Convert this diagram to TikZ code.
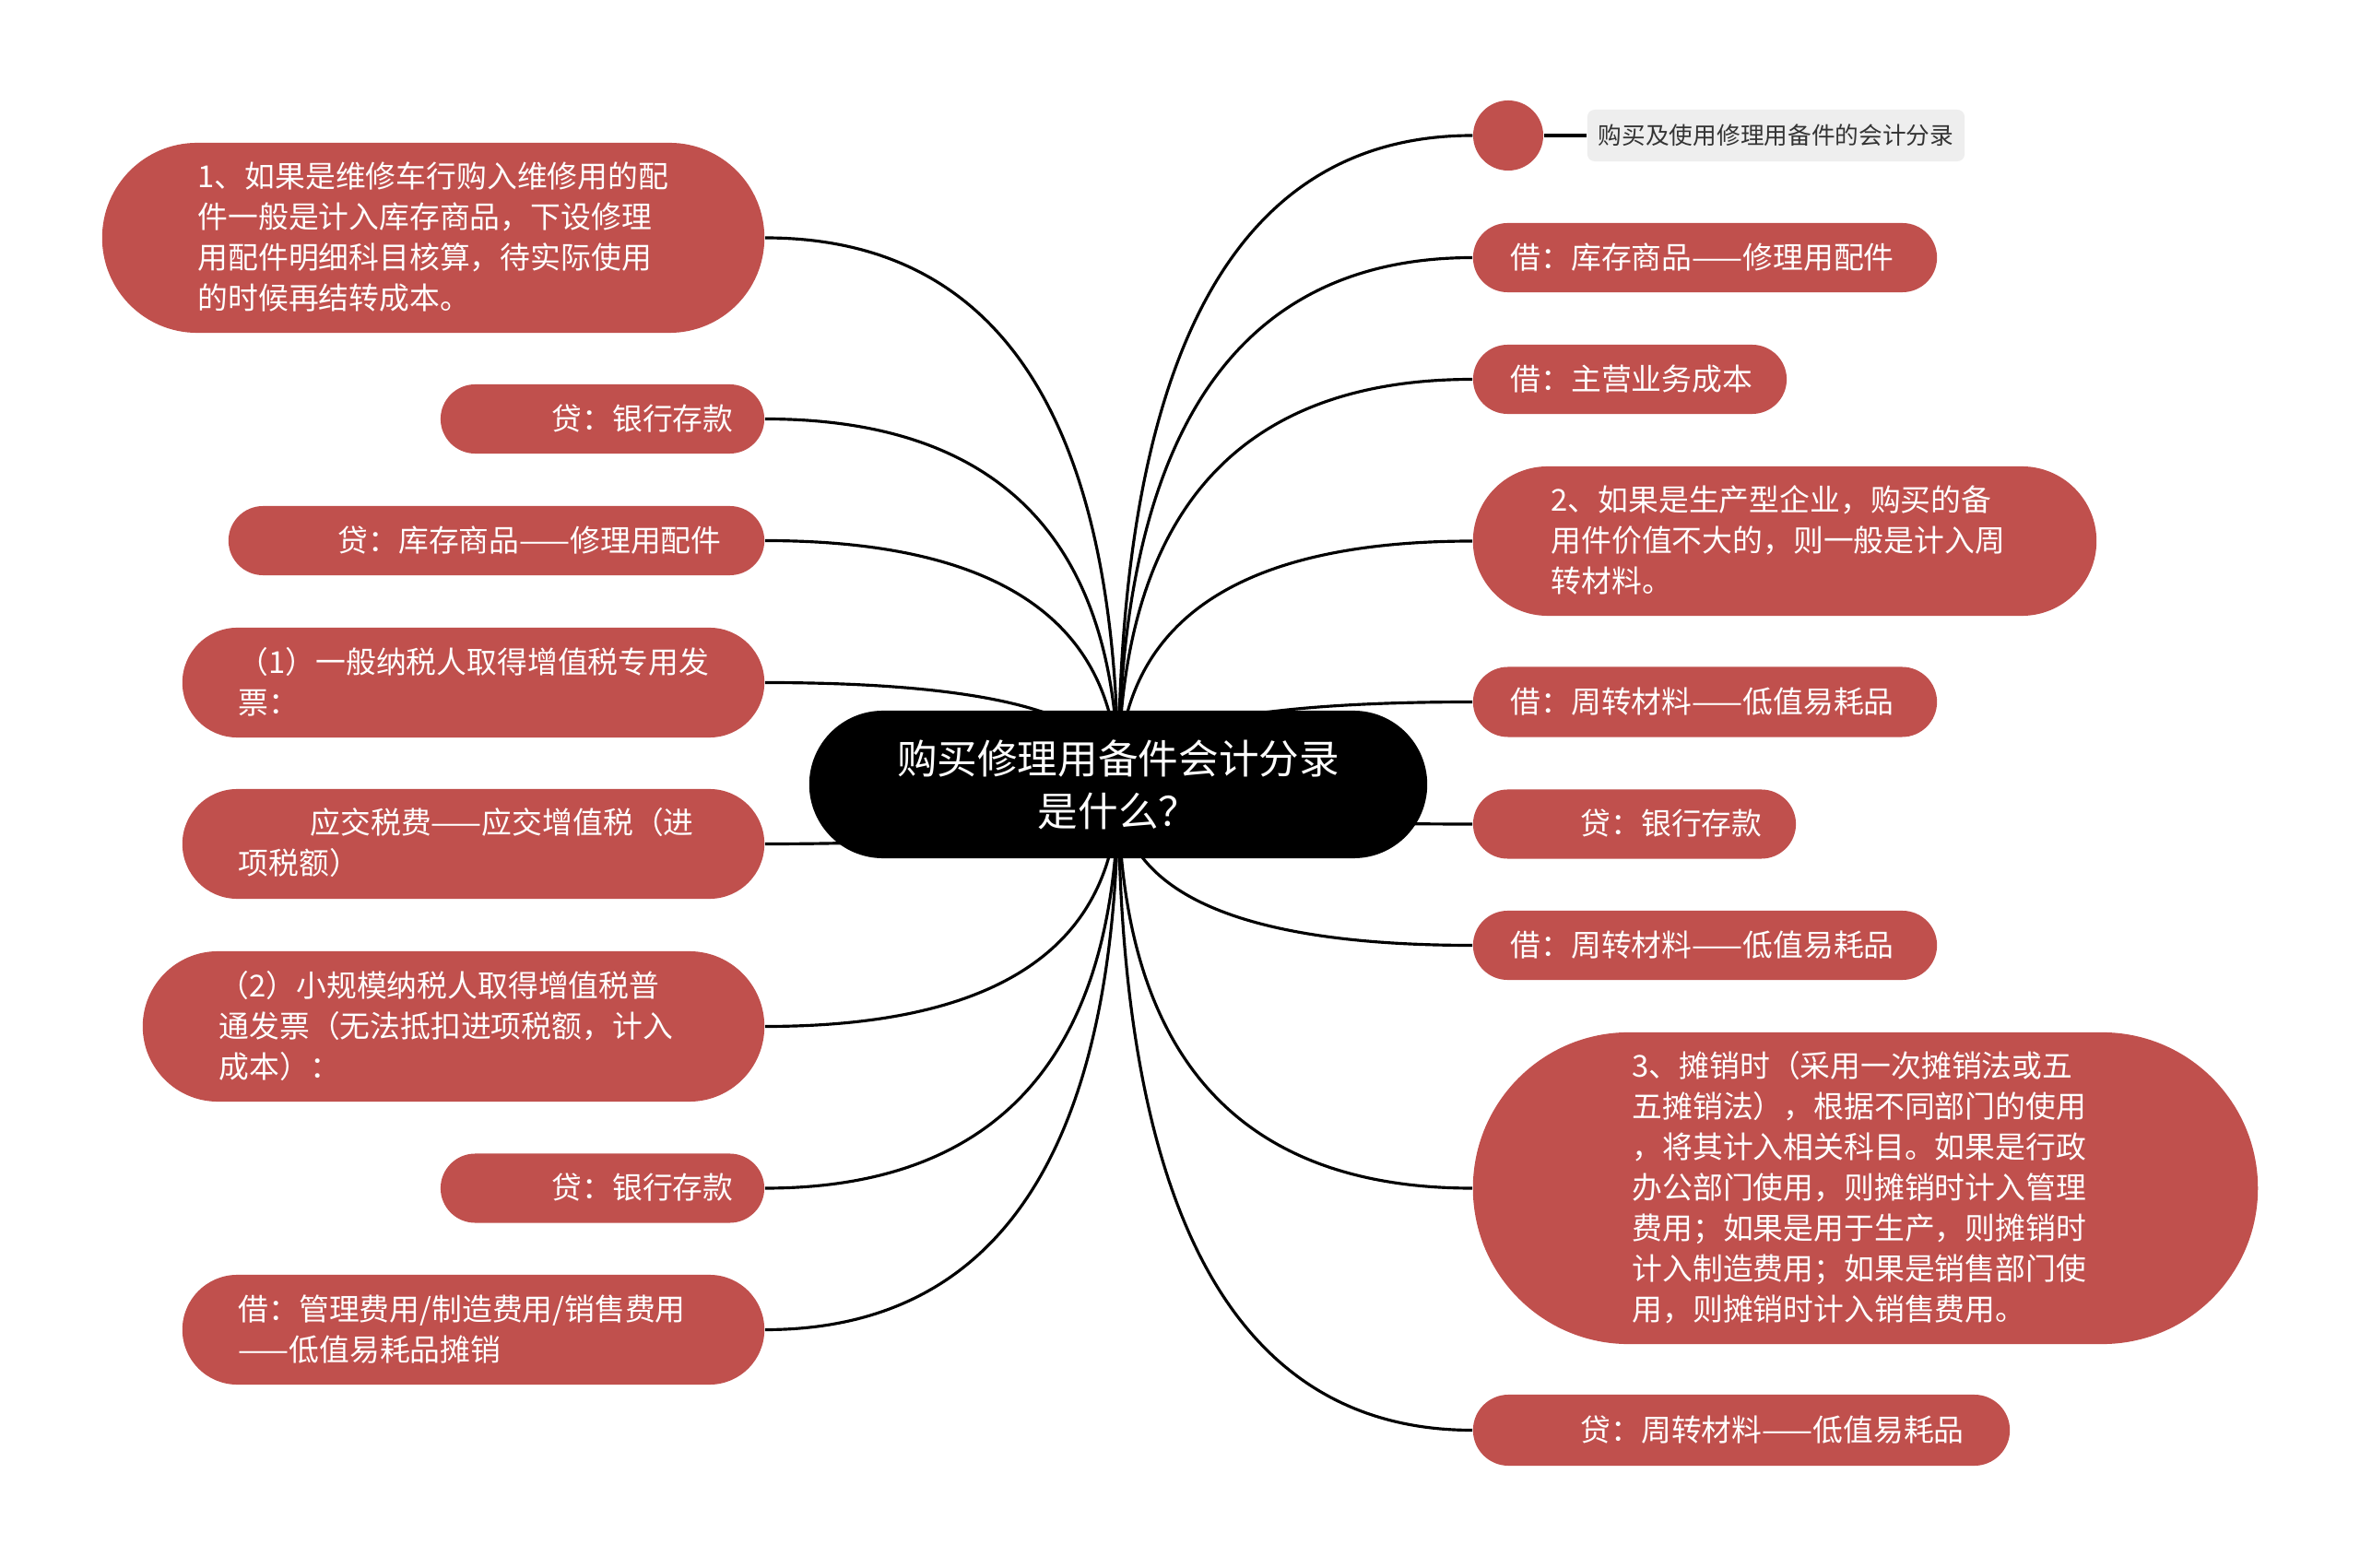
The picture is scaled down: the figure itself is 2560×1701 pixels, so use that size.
\documentclass[tikz,border=0pt]{standalone}
\usepackage{fontspec}
\newfontfamily\cjk{Noto Sans CJK SC}
\usetikzlibrary{calc,shapes.misc,backgrounds}
\definecolor{nred}{HTML}{C0504D}
\definecolor{lgray}{HTML}{EEEEEE}
\definecolor{ltext}{HTML}{333333}
\begin{document}
\begin{tikzpicture}[x=0.01cm,y=-0.01cm,
  pill/.style={rounded rectangle, fill=nred, draw=none, inner sep=0pt},
  body/.style={font=\cjk\fontsize{9.33pt}{12.52pt}\selectfont, text=white, align=left, anchor=west, inner sep=0pt},
  conn/.style={draw=black, line width=0.9pt},
]
\useasboundingbox (0,0) rectangle (2560,1701);

% root
\node[rounded rectangle, fill=black, minimum width=6.7cm, minimum height=1.6cm, inner sep=0pt] (root) at (1213,851) {};
\node[font=\cjk\fontsize{12.4pt}{16.2pt}\selectfont, text=white, align=center, inner sep=0pt] (roottxt) at (1213,851) {购买修理用备件会计分录\\是什么？};

% left shapes
\node[pill, minimum width=7.18cm, minimum height=2.06cm] (L1) at (470,258) {};
\node[pill, minimum width=3.51cm, minimum height=0.75cm] (L2) at (653.5,454.5) {};
\node[pill, minimum width=5.81cm, minimum height=0.75cm] (L3) at (538.5,586.5) {};
\node[pill, minimum width=6.31cm, minimum height=1.19cm] (L4) at (513.5,740.5) {};
\node[pill, minimum width=6.31cm, minimum height=1.19cm] (L5) at (513.5,915.5) {};
\node[pill, minimum width=6.74cm, minimum height=1.63cm] (L6) at (492,1113.5) {};
\node[pill, minimum width=3.51cm, minimum height=0.75cm] (L7) at (653.5,1289) {};
\node[pill, minimum width=6.31cm, minimum height=1.19cm] (L8) at (513.5,1442.5) {};

% left texts
\node[body] (t1) at (214,257) {1、如果是维修车行购入维修用的配\\件一般是计入库存商品，下设修理\\用配件明细科目核算，待实际使用\\的时候再结转成本。};
\node[body] (t2) at (598,454) {贷：银行存款};
\node[body] (t3) at (366,586) {贷：库存商品——修理用配件};
\node[body] (t4) at (258,740) {（1）一般纳税人取得增值税专用发\\票：};
\node[body] (t5) at (258,914) {\hspace*{0.78cm}应交税费——应交增值税（进\\项税额）};
\node[body] (t6) at (237,1113) {（2）小规模纳税人取得增值税普\\通发票（无法抵扣进项税额，计入\\成本）：};
\node[body] (t7) at (598,1288) {贷：银行存款};
\node[body] (t8) at (258,1442) {借：管理费用/制造费用/销售费用\\——低值易耗品摊销};

% right shapes
\node[circle, fill=nred, minimum size=0.76cm, inner sep=0pt] (R0) at (1636,147) {};
\node[rounded corners=0.08cm, fill=lgray, minimum width=4.09cm, minimum height=0.56cm, inner sep=0pt, text=ltext, font=\cjk\fontsize{7.3pt}{9pt}\selectfont] (R0b) at (1926.5,147) {购买及使用修理用备件的会计分录};
\node[pill, minimum width=5.03cm, minimum height=0.75cm] (R1) at (1849.5,279.5) {};
\node[pill, minimum width=3.40cm, minimum height=0.75cm] (R2) at (1768,411.5) {};
\node[pill, minimum width=6.76cm, minimum height=1.62cm] (R3) at (1936,587) {};
\node[pill, minimum width=5.03cm, minimum height=0.76cm] (R4) at (1849.5,761.5) {};
\node[pill, minimum width=3.50cm, minimum height=0.75cm] (R5) at (1773,894) {};
\node[pill, minimum width=5.03cm, minimum height=0.75cm] (R6) at (1849.5,1025.5) {};
\node[pill, minimum width=8.51cm, minimum height=3.38cm] (R7) at (2023.5,1289) {};
\node[pill, minimum width=5.82cm, minimum height=0.77cm] (R8) at (1889,1551.5) {};

% right texts
\node[body] (s1) at (1638,279) {借：库存商品——修理用配件};
\node[body] (s2) at (1638,411) {借：主营业务成本};
\node[body] (s3) at (1682,586) {2、如果是生产型企业，购买的备\\用件价值不大的，则一般是计入周\\转材料。};
\node[body] (s4) at (1638,761) {借：周转材料——低值易耗品};
\node[body] (s5) at (1714,893) {贷：银行存款};
\node[body] (s6) at (1638,1025) {借：周转材料——低值易耗品};
\node[body] (s7) at (1770,1288) {3、摊销时（采用一次摊销法或五\\五摊销法），根据不同部门的使用\\，将其计入相关科目。如果是行政\\办公部门使用，则摊销时计入管理\\费用；如果是用于生产，则摊销时\\计入制造费用；如果是销售部门使\\用，则摊销时计入销售费用。};
\node[body] (s8) at (1714,1551) {贷：周转材料——低值易耗品};

\begin{pgfonlayer}{background}
\fill[white] (0,0) rectangle (2560,1701);
\foreach \n/\a in {L1/east,L2/east,L3/east,L4/east,L5/east,L6/east,L7/east,L8/east,
                   R0/west,R1/west,R2/west,R3/west,R4/west,R5/west,R6/west,R7/west,R8/west}{
  \coordinate (k) at (root.center |- \n.\a);
  \draw[conn] (root.center) .. controls ($(root.center)!2/3!(k)$) and ($(\n.\a)!2/3!(k)$) .. (\n.\a);
}
\draw[conn] (R0.east) -- (R0b.west);
\end{pgfonlayer}
\end{tikzpicture}
\end{document}
